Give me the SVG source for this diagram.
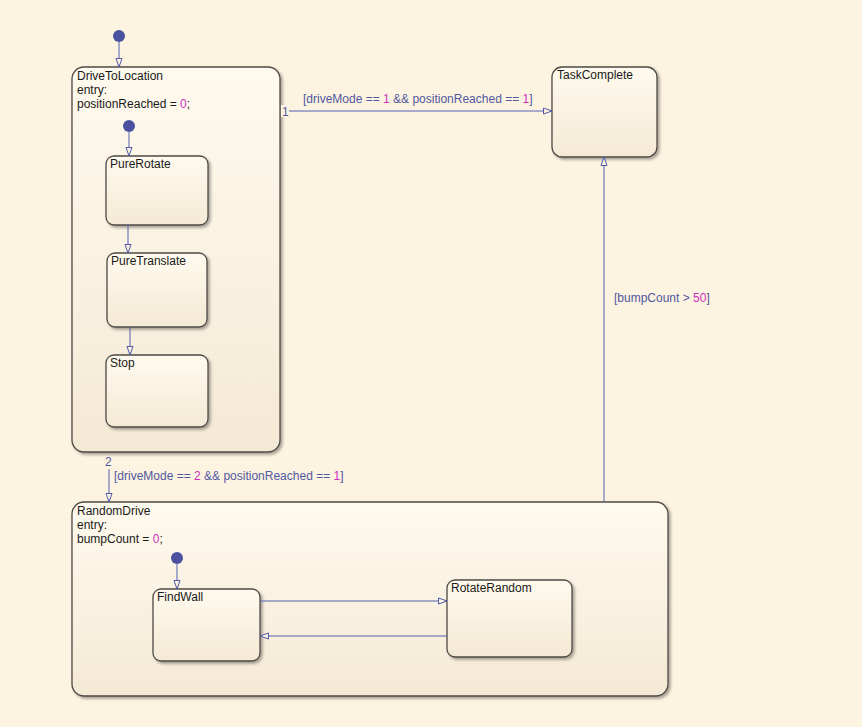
<svg xmlns="http://www.w3.org/2000/svg" width="862" height="727" viewBox="0 0 862 727">
<defs>
<linearGradient id="g" x1="0" y1="0" x2="0" y2="1">
<stop offset="0" stop-color="#fffaee"/>
<stop offset="1" stop-color="#f4e9d5"/>
</linearGradient>
<filter id="sh" x="-10%" y="-10%" width="130%" height="130%">
<feGaussianBlur in="SourceAlpha" stdDeviation="1.5"/>
<feOffset dx="2" dy="2" result="b"/>
<feComponentTransfer><feFuncA type="linear" slope="0.35"/></feComponentTransfer>
<feMerge><feMergeNode/><feMergeNode in="SourceGraphic"/></feMerge>
</filter>
<marker id="ah" viewBox="0 0 10 8" refX="9.5" refY="4" markerWidth="10" markerHeight="8" markerUnits="userSpaceOnUse" orient="auto">
<path d="M1,1 L9.5,4 L1,7 Z" fill="#fdf3e1" stroke="#4f5aa8" stroke-width="1"/>
</marker>
</defs>
<style>
.st{fill:url(#g);stroke:#4e4a45;stroke-width:1.3;filter:url(#sh)}
.t{font-family:"Liberation Sans",Arial,sans-serif;font-size:12px;fill:#1a1a1a}
.l{font-family:"Liberation Sans",Arial,sans-serif;font-size:12px;fill:#5058a0}
.n{fill:#d030c0}
.c{fill:none;stroke:#5560b0;stroke-width:1;marker-end:url(#ah)}
.d{fill:#4a52a0}
</style>
<rect width="862" height="727" fill="#fdf3e1"/>

<g id="DriveToLocation">
<rect class="st" x="72" y="67" width="208" height="385" rx="12"/>
<text class="t" x="77" y="80">DriveToLocation</text>
<text class="t" x="77" y="94">entry:</text>
<text class="t" x="77" y="108">positionReached = <tspan class="n">0</tspan>;</text>
</g>
<g id="PureRotate">
<rect class="st" x="106" y="156" width="102" height="69" rx="8"/>
<text class="t" x="110" y="168">PureRotate</text>
</g>
<g id="PureTranslate">
<rect class="st" x="107" y="253" width="100" height="74" rx="8"/>
<text class="t" x="111" y="265">PureTranslate</text>
</g>
<g id="Stop">
<rect class="st" x="106" y="355" width="102" height="72" rx="8"/>
<text class="t" x="110" y="367">Stop</text>
</g>
<g id="TaskComplete">
<rect class="st" x="552" y="67" width="105" height="90" rx="10"/>
<text class="t" x="557" y="79">TaskComplete</text>
</g>
<g id="RandomDrive">
<rect class="st" x="72" y="502" width="596" height="194" rx="12"/>
<text class="t" x="77" y="515">RandomDrive</text>
<text class="t" x="77" y="529">entry:</text>
<text class="t" x="77" y="543">bumpCount = <tspan class="n">0</tspan>;</text>
</g>
<g id="FindWall">
<rect class="st" x="153" y="589" width="107" height="72" rx="8"/>
<text class="t" x="157" y="601">FindWall</text>
</g>
<g id="RotateRandom">
<rect class="st" x="447" y="580" width="125" height="77" rx="8"/>
<text class="t" x="451" y="592">RotateRandom</text>
</g>

<g id="connectors">
<circle class="d" cx="119" cy="36" r="6"/>
<path class="c" d="M119,42 V67"/>
<circle class="d" cx="129" cy="126" r="6"/>
<path class="c" d="M129,132 V156"/>
<path class="c" d="M128,225 V253"/>
<path class="c" d="M130,327 V355"/>
<circle class="d" cx="177" cy="558" r="6"/>
<path class="c" d="M177,564 V589"/>
<path class="c" d="M289,111 H552"/>
<rect x="281" y="105" width="8" height="12" fill="#fdf3e1"/>
<text class="l" x="282" y="116">1</text>
<text class="l" x="303" y="103">[driveMode == <tspan class="n">1</tspan> &amp;&amp; positionReached == <tspan class="n">1</tspan>]</text>
<path class="c" d="M109,469 V502"/>
<text class="l" x="105" y="466">2</text>
<text class="l" x="114" y="480">[driveMode == <tspan class="n">2</tspan> &amp;&amp; positionReached == <tspan class="n">1</tspan>]</text>
<path class="c" d="M604,502 V157"/>
<text class="l" x="614" y="302">[bumpCount &gt; <tspan class="n">50</tspan>]</text>
<path class="c" d="M260,601 H447"/>
<path class="c" d="M447,636 H260"/>
</g>
</svg>
